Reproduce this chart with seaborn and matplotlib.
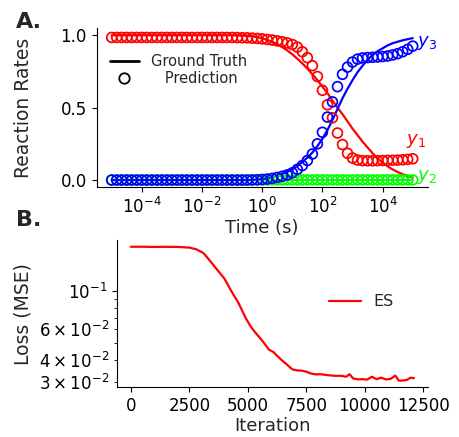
import numpy as np
import pandas as pd
import matplotlib
matplotlib.use("Agg")
import matplotlib.pyplot as plt
import seaborn as sns
from matplotlib.lines import Line2D

# ---------------- Panel A data ----------------
time_s = np.logspace(-5, 5, 61)  # sampling grid (6 points per decade)

true_y1 = [1.0] * 25 + [
    0.998, 0.997, 0.995, 0.992, 0.987, 0.978, 0.968, 0.955, 0.938, 0.918,
    0.895, 0.868, 0.838, 0.805, 0.77, 0.73, 0.69, 0.645, 0.60, 0.55,
    0.50, 0.455, 0.405, 0.355, 0.31, 0.265, 0.225, 0.185, 0.15, 0.12,
    0.095, 0.073, 0.055, 0.04, 0.028, 0.018]
true_y2 = [0.0] * 61
true_y3 = [0.0] * 25 + [
    0.0, 0.0, 0.0, 0.002, 0.004, 0.008, 0.013, 0.02, 0.03, 0.042,
    0.057, 0.075, 0.098, 0.125, 0.155, 0.19, 0.235, 0.285, 0.345, 0.415,
    0.49, 0.565, 0.63, 0.69, 0.745, 0.79, 0.83, 0.865, 0.89, 0.91,
    0.93, 0.945, 0.955, 0.965, 0.973, 0.98]

pred_y1 = [0.985] * 25 + [
    0.984, 0.983, 0.982, 0.98, 0.978, 0.975, 0.971, 0.967, 0.961, 0.955,
    0.947, 0.936, 0.918, 0.886, 0.845, 0.79, 0.715, 0.62, 0.52, 0.43,
    0.325, 0.245, 0.185, 0.152, 0.138, 0.134, 0.133, 0.133, 0.134, 0.135,
    0.136, 0.137, 0.138, 0.14, 0.143, 0.147]
pred_y2 = [0.001] * 61
pred_y3 = [0.0] * 25 + [
    0.0, 0.0, 0.0, 0.001, 0.002, 0.004, 0.007, 0.012, 0.018, 0.026,
    0.036, 0.05, 0.074, 0.10, 0.135, 0.18, 0.25, 0.33, 0.435, 0.54,
    0.645, 0.73, 0.78, 0.815, 0.835, 0.843, 0.846, 0.848, 0.85, 0.853,
    0.857, 0.864, 0.873, 0.886, 0.903, 0.925]

species = ["$y_1$", "$y_2$", "$y_3$"]
species_colors = ["red", "lime", "blue"]

# ---------------- Panel B data ----------------
iterations = [0, 500, 1000, 1500, 2000, 2500, 2800, 3100, 3400, 3700,
              4000, 4300, 4600, 4900, 5100, 5300, 5500, 5700, 5900, 6100,
              6300, 6500, 6700, 6900, 7100, 7300, 7500, 7700, 7900, 8100,
              8400, 8700, 9000, 9200, 9350, 9500, 9700, 9900, 10100, 10300,
              10500, 10700, 10900, 11100, 11300, 11450, 11600, 11800, 11950, 12100]
loss_es = [0.178, 0.178, 0.1775, 0.1778, 0.1776, 0.176, 0.172, 0.164, 0.147, 0.131,
           0.117, 0.099, 0.085, 0.070, 0.063, 0.058, 0.054, 0.050, 0.046, 0.0445,
           0.0418, 0.0395, 0.0375, 0.0355, 0.0350, 0.0349, 0.0344, 0.0336, 0.0332, 0.0333,
           0.0329, 0.0326, 0.0326, 0.0322, 0.0333, 0.0315, 0.0311, 0.0312, 0.0310, 0.0322,
           0.0312, 0.0318, 0.0311, 0.0313, 0.0327, 0.0306, 0.0306, 0.0309, 0.0318, 0.0316]

# ---------------- Figure ----------------
sns.set_style("ticks")
plt.rcParams["font.family"] = ["DejaVu Sans"]
plt.rcParams["axes.edgecolor"] = "black"
plt.rcParams["xtick.color"] = "black"
plt.rcParams["ytick.color"] = "black"

fig = plt.figure(figsize=(4.6, 4.37), dpi=100)
axA = fig.add_axes([0.210, 0.5714, 0.720, 0.3645])
axB = fig.add_axes([0.2537, 0.1137, 0.677, 0.337])

trues = [true_y1, true_y2, true_y3]
preds = [pred_y1, pred_y2, pred_y3]
for col, yt in zip(species_colors, trues):
    sns.lineplot(x=time_s, y=yt, ax=axA, color=col, linewidth=1.6, legend=False)
for col, yp in zip(species_colors, preds):
    sns.scatterplot(x=time_s, y=yp, ax=axA, marker="o", s=50,
                    facecolors="none", edgecolor=col, linewidth=1.25, legend=False, zorder=3)

axA.set_xscale("log")
axA.set_yticks([0.0, 0.5, 1.0])
axA.set_xlabel("Time (s)", fontsize=13, labelpad=1.5)
axA.set_ylabel("Reaction Rates", fontsize=13.5)
axA.tick_params(labelsize=12)
axA.yaxis.set_label_coords(-0.192, 0.5)

# species labels at line ends
axA.text(1.4e5, pred_y3[-1] + 0.02, species[2], color=species_colors[2], fontsize=13,
         va="center", ha="left")
axA.text(6e4, pred_y1[-1] + 0.12, species[0], color=species_colors[0], fontsize=13,
         va="center", ha="left")
axA.text(1.4e5, 0.02, species[1], color=species_colors[1], fontsize=13,
         va="center", ha="left")

hA = [Line2D([], [], color="black", linewidth=2),
      Line2D([], [], color="black", marker="o", linestyle="", markerfacecolor="none",
             markersize=7.5, markeredgewidth=1.3)]
axA.legend(hA, ["Ground Truth", "   Prediction"], frameon=False, fontsize=10.5,
           loc="upper left", bbox_to_anchor=(0.0, 0.92), handlelength=2.0,
           labelspacing=0.15)

sns.lineplot(x=iterations, y=loss_es, ax=axB, color="red", linewidth=1.6, label="ES")
axB.set_yscale("log")
axB.set_xlabel("Iteration", fontsize=13, labelpad=1.5)
axB.set_ylabel("Loss (MSE)", fontsize=13.5)
axB.tick_params(labelsize=12, which="both")
axB.set_xticks([0, 2500, 5000, 7500, 10000, 12500])
axB.legend(frameon=False, fontsize=11.5, loc="center left", bbox_to_anchor=(0.635, 0.58))
axB.yaxis.set_label_coords(-0.269, 0.5)

sns.despine(fig=fig)

fig.text(0.035, 0.935, "A.", fontsize=16, fontweight="bold")
fig.text(0.035, 0.483, "B.", fontsize=16, fontweight="bold")

fig.savefig("out.png", dpi=100)
